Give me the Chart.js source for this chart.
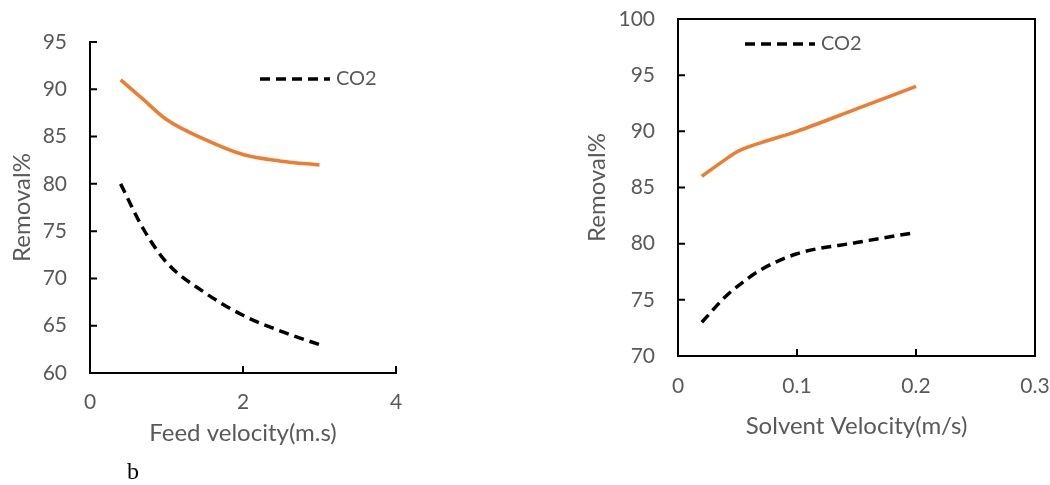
<!DOCTYPE html>
<html>
<head>
<meta charset="utf-8">
<script src="https://cdn.jsdelivr.net/npm/chart.js@4.4.0/dist/chart.umd.min.js"></script>
<style>
  body { margin: 0; background: #fff; width: 1050px; height: 485px; overflow: hidden; position: relative; }
  canvas { position: absolute; top: 0; }
  #feed { left: 0; }
  #solvent { left: 540px; }
  #tag { position: absolute; left: 127px; top: 458px; font: 24px "Liberation Serif", serif; color: #000; }
</style>
</head>
<body>
<canvas id="feed" width="420" height="485"></canvas>
<canvas id="solvent" width="510" height="485"></canvas>
<div id="tag">b</div>
<script>
// left panel: feed velocity
const feedVelocity = [0.4, 0.7, 1, 1.5, 2, 2.5, 3];
const feedOther = [91, 88.9, 86.8, 84.7, 83.1, 82.4, 82];
const feedCO2 = [80, 75.2, 71.7, 68.5, 66.1, 64.4, 63];
const feedXTicks = [0, 2, 4];

// right panel: solvent velocity
const solventVelocity = [0.02, 0.04, 0.05, 0.07, 0.1, 0.15, 0.2];
const solventOther = [86, 87.5, 88.2, 89.0, 90, 92, 94];
const solventCO2 = [73, 75.3, 76.2, 77.7, 79.1, 80.1, 81];
const solventXTicks = [0, 0.1, 0.2, 0.3];

const grey = '#595959';
const orange = '#ED7D31';
const font = 'Lato';

const pts = (xs, ys) => xs.map((x, i) => ({ x: x, y: ys[i] }));

// no extra room for labels, the plot box is placed by hand
const noPad = s => { s.paddingTop = 0; s.paddingBottom = 0; s.paddingLeft = 0; s.paddingRight = 0; };

// tick marks inside the plot, optional full frame, and the CO2 legend
const extras = {
  id: 'extras',
  afterDraw(chart, args, opts) {
    const { ctx, chartArea: a, scales: { x, y } } = chart;
    ctx.save();
    ctx.strokeStyle = '#000';
    ctx.lineWidth = 2;
    ctx.setLineDash([]);
    ctx.beginPath();
    if (opts.box) ctx.rect(a.left, a.top, a.right - a.left, a.bottom - a.top);
    y.ticks.forEach(t => {
      const py = y.getPixelForValue(t.value);
      ctx.moveTo(a.left, py); ctx.lineTo(a.left + 7, py);
    });
    x.ticks.forEach(t => {
      const px = x.getPixelForValue(t.value);
      ctx.moveTo(px, a.bottom); ctx.lineTo(px, a.bottom - 7);
    });
    ctx.stroke();

    const L = opts.legend;
    ctx.lineWidth = 3.5;
    ctx.setLineDash([10, 6]);
    ctx.beginPath();
    ctx.moveTo(L.x, L.y); ctx.lineTo(L.x + 70, L.y);
    ctx.stroke();
    ctx.setLineDash([]);
    ctx.fillStyle = grey;
    ctx.font = '20px ' + font;
    ctx.textBaseline = 'middle';
    ctx.fillText('CO2', L.x + 76, L.y);
    ctx.restore();
  }
};

function makeChart(id, cfg) {
  return new Chart(document.getElementById(id), {
    type: 'scatter',
    data: {
      datasets: [
        { label: 'other', data: cfg.other, showLine: true, borderColor: orange, borderWidth: 3.5,
          pointRadius: 0, cubicInterpolationMode: 'monotone' },
        { label: 'CO2', data: cfg.co2, showLine: true, borderColor: '#000', borderWidth: 3.5,
          borderDash: [10, 6], pointRadius: 0, cubicInterpolationMode: 'monotone' }
      ]
    },
    options: {
      responsive: false,
      animation: false,
      layout: { padding: { top: cfg.top, right: cfg.right, left: 0, bottom: 0 } },
      plugins: {
        legend: { display: false },
        tooltip: { enabled: false },
        extras: { box: cfg.box, legend: cfg.legend }
      },
      scales: {
        x: {
          type: 'linear', min: cfg.xmin, max: cfg.xmax,
          afterBuildTicks: s => { s.ticks = cfg.xticks.map(v => ({ value: v })); },
          ticks: { color: grey, font: { family: font, size: 21 }, padding: cfg.xTickPad },
          grid: { display: false, drawTicks: false },
          border: { color: '#000', width: 2 },
          title: { display: true, text: cfg.xtitle, color: grey, font: { family: font, size: 24 },
                   padding: { top: 0, bottom: cfg.xtitlePad } },
          afterFit: s => { s.height = cfg.xh; noPad(s); }
        },
        y: {
          min: cfg.ymin, max: cfg.ymax,
          ticks: { stepSize: 5, color: grey, font: { family: font, size: 21 }, padding: 23 },
          grid: { display: false, drawTicks: false },
          border: { color: '#000', width: 2 },
          title: { display: true, text: 'Removal%', color: grey, font: { family: font, size: 24 },
                   padding: { top: cfg.ytitlePad, bottom: 0 } },
          afterFit: s => { s.width = cfg.yw; noPad(s); }
        }
      }
    },
    plugins: [extras]
  });
}

makeChart('feed', {
  other: pts(feedVelocity, feedOther), co2: pts(feedVelocity, feedCO2),
  xmin: 0, xmax: 4, xticks: feedXTicks, ymin: 60, ymax: 95,
  xtitle: 'Feed velocity(m.s)', top: 42, right: 24, xh: 112, yw: 90, xTickPad: 17,
  xtitlePad: 37, ytitlePad: 8, box: false, legend: { x: 260, y: 79 }
});

makeChart('solvent', {
  other: pts(solventVelocity, solventOther), co2: pts(solventVelocity, solventCO2),
  xmin: 0, xmax: 0.3, xticks: solventXTicks, ymin: 70, ymax: 100,
  xtitle: 'Solvent Velocity(m/s)', top: 19, right: 15, xh: 129, yw: 138, xTickPad: 18,
  xtitlePad: 44, ytitlePad: 43, box: true, legend: { x: 205, y: 44 }
});
</script>
</body>
</html>
